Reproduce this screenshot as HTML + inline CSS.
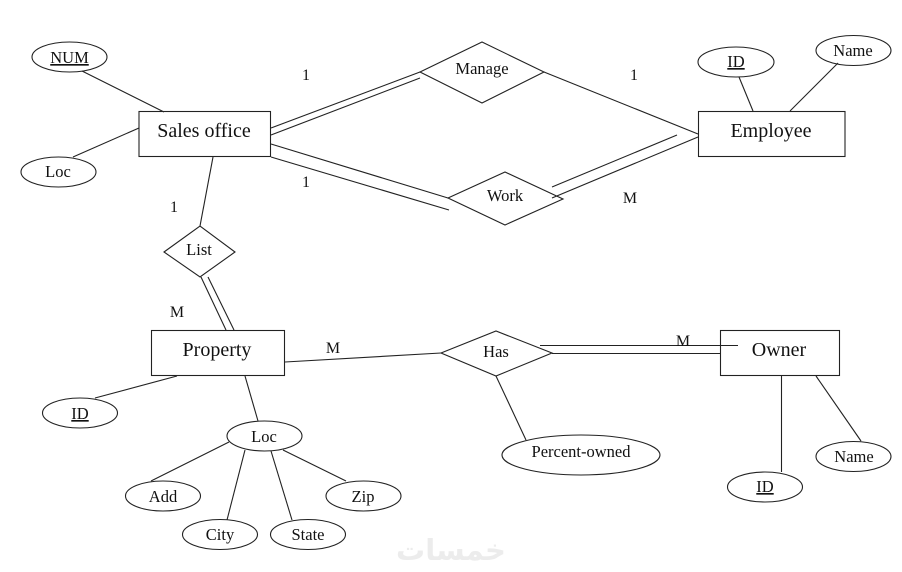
<!DOCTYPE html>
<html><head><meta charset="utf-8"><style>
html,body{margin:0;padding:0;background:#fff;width:902px;height:572px;overflow:hidden}
svg{display:block}
text{font-family:"Liberation Serif",serif;fill:#111;text-anchor:middle}
.b{font-size:20px}.s{font-size:16.5px}.c{font-size:16px}
.u{text-decoration:underline}
.g line,.g rect,.g ellipse,.g polygon{stroke:#222;stroke-width:1.1;fill:none}
</style></head><body>
<svg width="902" height="572" viewBox="0 0 902 572" xmlns="http://www.w3.org/2000/svg">
<text x="451" y="560" style="font-family:'DejaVu Sans',sans-serif;font-size:29px;font-weight:bold;fill:#ececec">خمسات</text>
<g class="g">
<rect x="139" y="111.5" width="131.5" height="45"/>
<rect x="698.5" y="111.5" width="146.5" height="45"/>
<rect x="151.5" y="330.5" width="133" height="45"/>
<rect x="720.5" y="330.5" width="119" height="45"/>
<polygon points="420,72 482,42 544,72 482,103"/>
<polygon points="448,198 505,172 563,199 505,225"/>
<polygon points="164,252 200,226 235,252 200,277"/>
<polygon points="441,353 496,331 552,353 496,376"/>
<ellipse cx="69.5" cy="57" rx="37.5" ry="15"/>
<ellipse cx="58.5" cy="172" rx="37.5" ry="15"/>
<ellipse cx="736" cy="62" rx="38" ry="15"/>
<ellipse cx="853.5" cy="50.5" rx="37.5" ry="15"/>
<ellipse cx="80" cy="413" rx="37.5" ry="15"/>
<ellipse cx="264.5" cy="436" rx="37.5" ry="15"/>
<ellipse cx="163" cy="496" rx="37.5" ry="15"/>
<ellipse cx="220" cy="534.5" rx="37.5" ry="15"/>
<ellipse cx="308" cy="534.5" rx="37.5" ry="15"/>
<ellipse cx="363.5" cy="496" rx="37.5" ry="15"/>
<ellipse cx="581" cy="455" rx="79" ry="20"/>
<ellipse cx="765" cy="487" rx="37.5" ry="15"/>
<ellipse cx="853.5" cy="456.5" rx="37.5" ry="15"/>
<line x1="82" y1="71" x2="164" y2="112"/>
<line x1="73" y1="157" x2="139" y2="128"/>
<line x1="213" y1="157" x2="200" y2="226"/>
<line x1="271" y1="128" x2="420" y2="72"/>
<line x1="271" y1="135" x2="420" y2="78"/>
<line x1="271" y1="144" x2="448" y2="198"/>
<line x1="271" y1="157" x2="449" y2="210"/>
<line x1="544" y1="72" x2="698" y2="134"/>
<line x1="552" y1="187" x2="677" y2="135"/>
<line x1="552" y1="198" x2="698" y2="137"/>
<line x1="739" y1="77" x2="753" y2="111"/>
<line x1="838" y1="63" x2="790" y2="111"/>
<line x1="201" y1="277" x2="226" y2="330"/>
<line x1="208" y1="277" x2="234" y2="330"/>
<line x1="285" y1="362" x2="441" y2="353"/>
<line x1="540" y1="345.5" x2="738" y2="345.5"/>
<line x1="552" y1="353.5" x2="720" y2="353.5"/>
<line x1="496" y1="376" x2="526" y2="440"/>
<line x1="95" y1="398" x2="177" y2="376"/>
<line x1="245" y1="376" x2="258" y2="421"/>
<line x1="229" y1="442" x2="151" y2="481"/>
<line x1="245" y1="450" x2="227" y2="520"/>
<line x1="271" y1="451" x2="292" y2="520"/>
<line x1="283" y1="450" x2="346" y2="481"/>
<line x1="781.5" y1="376" x2="781.5" y2="472"/>
<line x1="816" y1="376" x2="861" y2="441"/>
</g>
<text class="b" x="204" y="137">Sales office</text>
<text class="b" x="771" y="137">Employee</text>
<text class="b" x="217" y="356">Property</text>
<text class="b" x="779" y="356">Owner</text>
<text class="s u" x="69.5" y="63">NUM</text>
<text class="s" x="58" y="177">Loc</text>
<text class="s" x="482" y="74">Manage</text>
<text class="s" x="505" y="201">Work</text>
<text class="s" x="199" y="255">List</text>
<text class="s" x="496" y="357">Has</text>
<text class="s u" x="736" y="67">ID</text>
<text class="s" x="853" y="56">Name</text>
<text class="s u" x="80" y="419">ID</text>
<text class="s" x="264" y="442">Loc</text>
<text class="s" x="163" y="502">Add</text>
<text class="s" x="220" y="540">City</text>
<text class="s" x="308" y="540">State</text>
<text class="s" x="363" y="502">Zip</text>
<text class="s" x="581" y="457">Percent-owned</text>
<text class="s u" x="765" y="492">ID</text>
<text class="s" x="854" y="462">Name</text>
<text class="c" x="306" y="80">1</text>
<text class="c" x="634" y="80">1</text>
<text class="c" x="306" y="187">1</text>
<text class="c" x="174" y="212">1</text>
<text class="c" x="630" y="203">M</text>
<text class="c" x="177" y="317">M</text>
<text class="c" x="333" y="353">M</text>
<text class="c" x="683" y="346">M</text>
</svg>
</body></html>
